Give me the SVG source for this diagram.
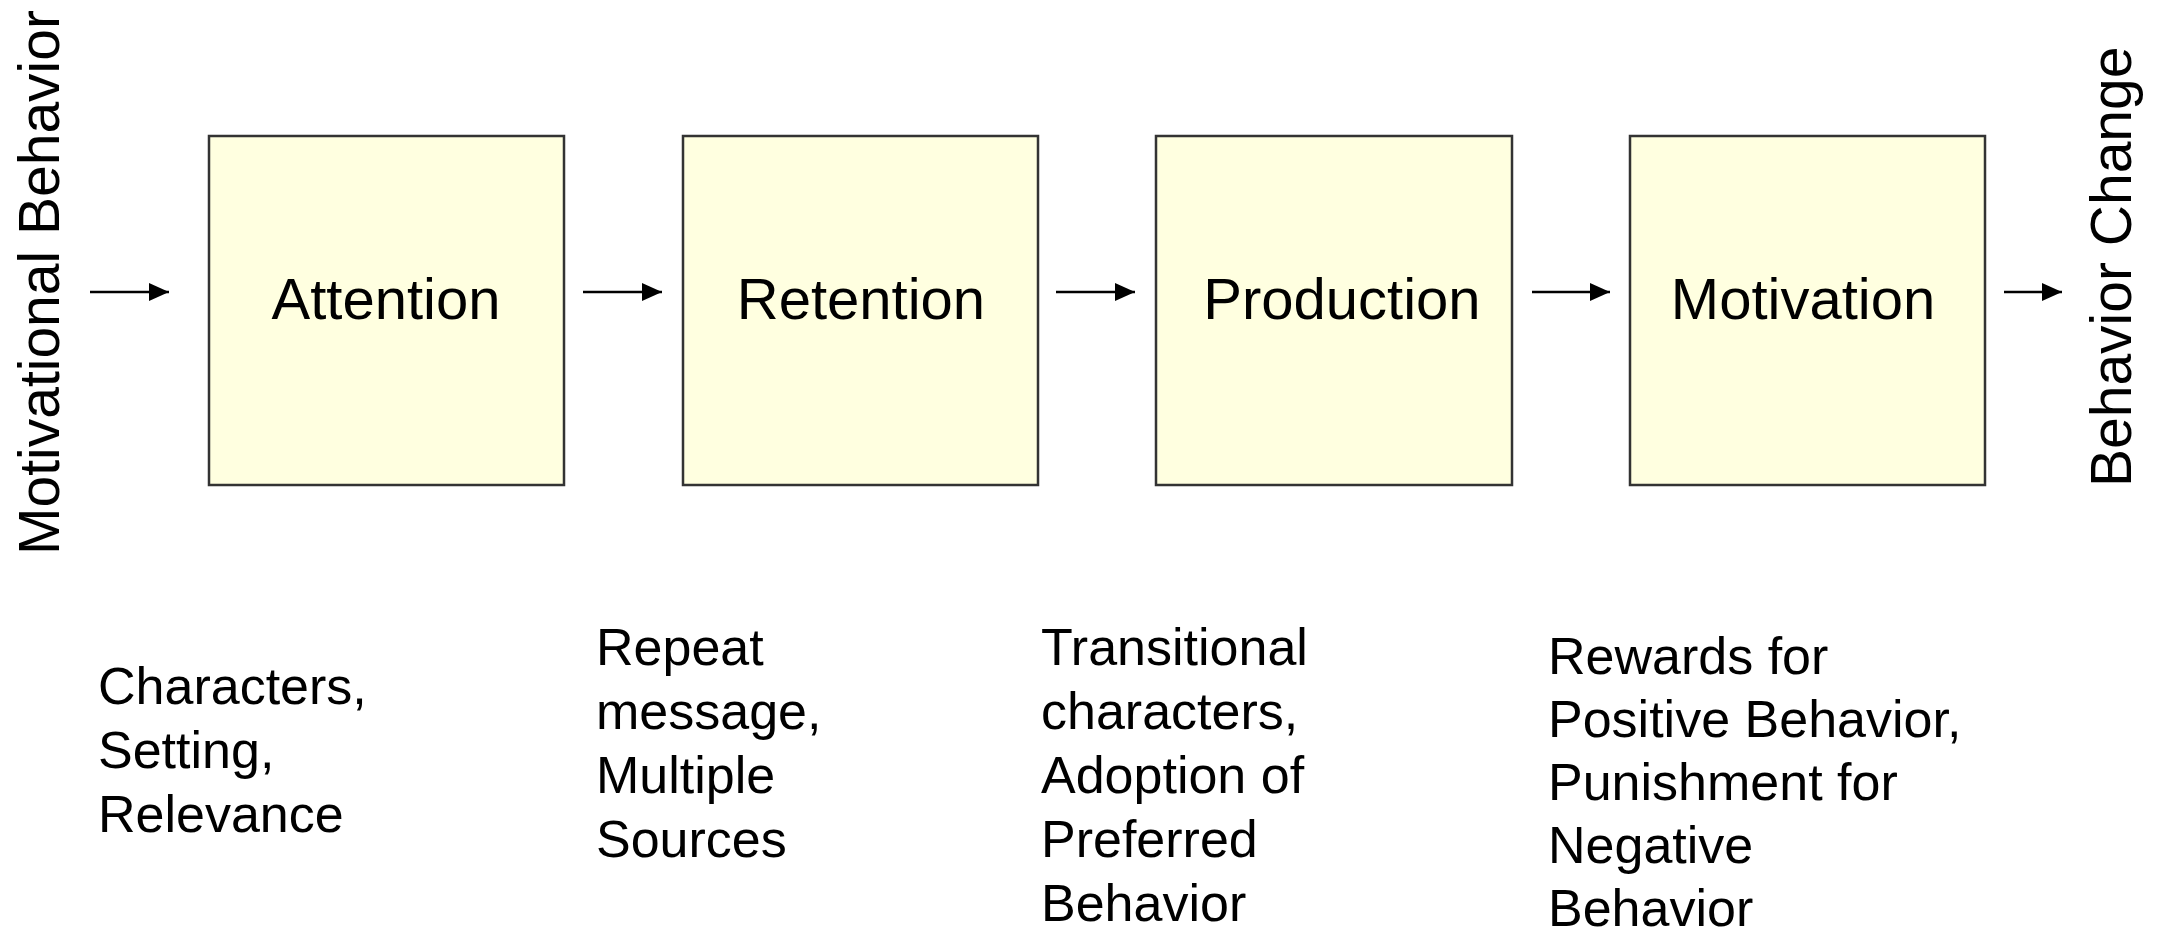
<svg xmlns="http://www.w3.org/2000/svg" width="2162" height="935" viewBox="0 0 2162 935">
<style>
.box{fill:#FFFFE0;stroke:#333;stroke-width:2.5}
.lbl{font-family:"Liberation Sans",Arial,sans-serif;font-size:58px;fill:#000;text-anchor:middle}
.side{font-family:"Liberation Sans",Arial,sans-serif;font-size:57px;fill:#000}
.note{font-family:"Liberation Sans",Arial,sans-serif;font-size:52px;fill:#000}
.conn{stroke:#000;stroke-width:2.5;fill:none;marker-end:url(#ah)}
</style>
<defs>
<marker id="ah" viewBox="0 0 20 18" refX="20" refY="9" markerWidth="20" markerHeight="18" markerUnits="userSpaceOnUse" orient="auto">
<path d="M0,0 L20,9 L0,18 z" fill="#000"/>
</marker>
</defs>
<rect width="2162" height="935" fill="#fff"/>
<g id="in-label"><text class="side" transform="translate(59,555) rotate(-90)">Motivational Behavior</text></g>
<g id="out-label"><text class="side" transform="translate(2131,487) rotate(-90)">Behavior Change</text></g>
<g id="attention"><rect class="box" x="209" y="136" width="355" height="349"/><text class="lbl" x="386" y="319">Attention</text></g>
<g id="retention"><rect class="box" x="683" y="136" width="355" height="349"/><text class="lbl" x="861" y="319">Retention</text></g>
<g id="production"><rect class="box" x="1156" y="136" width="356" height="349"/><text class="lbl" x="1342" y="319">Production</text></g>
<g id="motivation"><rect class="box" x="1630" y="136" width="355" height="349"/><text class="lbl" x="1803" y="319">Motivation</text></g>
<g id="connectors">
<line class="conn" x1="90" y1="292" x2="169" y2="292"/>
<line class="conn" x1="583" y1="292" x2="662" y2="292"/>
<line class="conn" x1="1056" y1="292" x2="1135" y2="292"/>
<line class="conn" x1="1532" y1="292" x2="1610" y2="292"/>
<line class="conn" x1="2004" y1="292" x2="2062" y2="292"/>
</g>
<g id="note-attention"><text class="note" x="98" y="704"><tspan x="98">Characters,</tspan><tspan x="98" dy="64">Setting,</tspan><tspan x="98" dy="64">Relevance</tspan></text></g>
<g id="note-retention"><text class="note" x="596" y="665"><tspan x="596">Repeat</tspan><tspan x="596" dy="64">message,</tspan><tspan x="596" dy="64">Multiple</tspan><tspan x="596" dy="64">Sources</tspan></text></g>
<g id="note-production"><text class="note" x="1041" y="665"><tspan x="1041">Transitional</tspan><tspan x="1041" dy="64">characters,</tspan><tspan x="1041" dy="64">Adoption of</tspan><tspan x="1041" dy="64">Preferred</tspan><tspan x="1041" dy="64">Behavior</tspan></text></g>
<g id="note-motivation"><text class="note" x="1548" y="674"><tspan x="1548">Rewards for</tspan><tspan x="1548" dy="63">Positive Behavior,</tspan><tspan x="1548" dy="63">Punishment for</tspan><tspan x="1548" dy="63">Negative</tspan><tspan x="1548" dy="63">Behavior</tspan></text></g>
</svg>
